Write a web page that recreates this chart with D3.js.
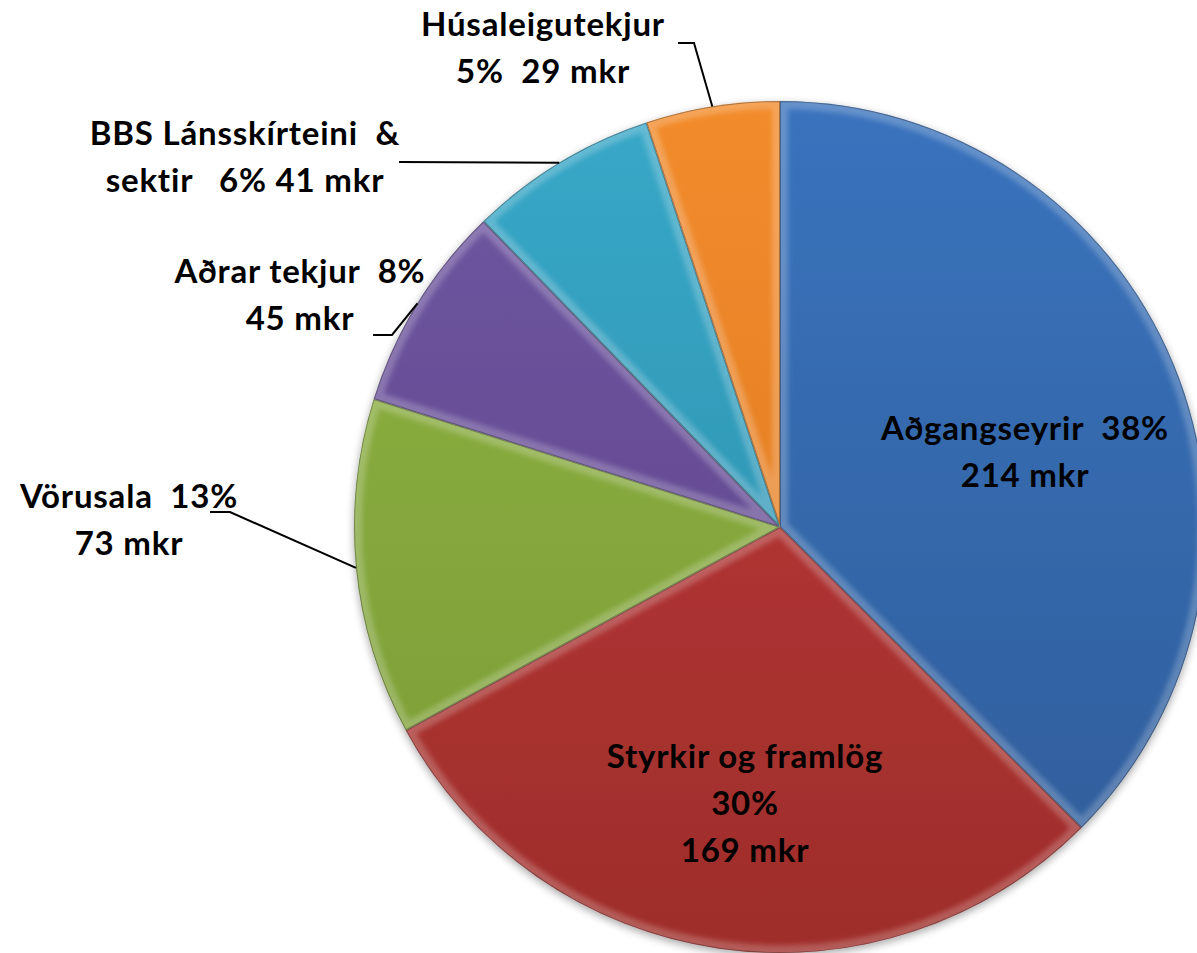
<!DOCTYPE html>
<html>
<head>
<meta charset="utf-8">
<script src="https://cdn.jsdelivr.net/npm/d3@7"></script>
<style>
    body { margin: 0; background: #ffffff; }
    svg { display: block; }
    .lbl { font-family: Lato, "Open Sans", sans-serif; font-weight: bold; font-size: 33px; letter-spacing: 0.8px; fill: #000; white-space: pre; }
</style>
</head>
<body>
<div id="chart"></div>
<script>
// chart data
var categories = ["Aðgangseyrir", "Styrkir og framlög", "Vörusala", "Aðrar tekjur", "BBS Lánsskírteini & sektir", "Húsaleigutekjur"];
var values = [214, 169, 73, 45, 41, 29];
var percents = ["38%", "30%", "13%", "8%", "6%", "5%"];
var labelLines = [
    ["Aðgangseyrir  38%", "214 mkr"],
    ["Styrkir og framlög", "30%", "169 mkr"],
    ["Vörusala  13%", "73 mkr"],
    ["Aðrar tekjur  8%", "45 mkr"],
    ["BBS Lánsskírteini  &", "sektir   6% 41 mkr"],
    ["Húsaleigutekjur", "5%  29 mkr"]
];

// layout
var colors = ["#3a73bd", "#bf3b38", "#8fb443", "#7057a2", "#38a8c8", "#f28b2c"];
var darks = ["#2e5c98", "#9e2d2b", "#7a9a35", "#5a4286", "#2b8aa6", "#d9761f"];
var labelPos = [[1025, 440], [745, 768], [129, 508], [300, 283], [245, 145], [543, 36]];
var lineHeight = 47;
// leader elbows (label side) for the outside labels, null for inside ones
var elbows = [null, null, [[210, 512], [230, 512]], [[373, 335], [392, 335]], [[399, 162]], [[678, 43], [694, 43]]];

var width = 1197, height = 953;
var cx = 780, cy = 527, radius = 426;

var svg = d3.select('#chart')
    .append('svg')
    .attr('width', width)
    .attr('height', height);

var defs = svg.append('defs');

var shadow = defs.append('filter').attr('id', 'shadow')
    .attr('x', '-10%').attr('y', '-10%').attr('width', '120%').attr('height', '120%');
shadow.append('feGaussianBlur').attr('in', 'SourceAlpha').attr('stdDeviation', 4).attr('result', 'b');
shadow.append('feOffset').attr('in', 'b').attr('dx', 0).attr('dy', 3).attr('result', 'o');
shadow.append('feComponentTransfer').attr('in', 'o').attr('result', 's')
    .append('feFuncA').attr('type', 'linear').attr('slope', 0.35);
var merge = shadow.append('feMerge');
merge.append('feMergeNode').attr('in', 's');
merge.append('feMergeNode').attr('in', 'SourceGraphic');

defs.append('filter').attr('id', 'soft')
    .append('feGaussianBlur').attr('stdDeviation', 2.5);

colors.forEach(function(c, i) {
    var g = defs.append('linearGradient')
        .attr('id', 'grad' + i)
        .attr('gradientUnits', 'userSpaceOnUse')
        .attr('x1', 0).attr('y1', -radius)
        .attr('x2', 0).attr('y2', radius);
    g.append('stop').attr('offset', '0%').attr('stop-color', c);
    g.append('stop').attr('offset', '100%').attr('stop-color', darks[i]);
});

var g = svg.append('g')
    .attr('transform', 'translate(' + cx + ',' + cy + ')');

var pie = d3.pie()
    .value(function(d) { return d; })
    .sort(null);

var arc = d3.arc()
    .innerRadius(0)
    .outerRadius(radius);

var rimArc = d3.arc()
    .innerRadius(radius)
    .outerRadius(radius);

var arcs = pie(values);

arcs.forEach(function(d, i) {
    defs.append('clipPath').attr('id', 'clip' + i)
        .append('path').attr('d', arc(d))
        .attr('transform', 'translate(' + cx + ',' + cy + ')');
});

var pieGroup = g.append('g').attr('filter', 'url(#shadow)');

pieGroup.selectAll('path.slice')
    .data(arcs)
    .enter()
    .append('path')
    .attr('class', 'slice')
    .attr('d', arc)
    .attr('fill', function(d, i) { return 'url(#grad' + i + ')'; });

// soft bevel inside each slice
var bevel = svg.append('g');
arcs.forEach(function(d, i) {
    var bg = bevel.append('g').attr('clip-path', 'url(#clip' + i + ')')
        .append('g').attr('transform', 'translate(' + cx + ',' + cy + ')');
    bg.append('path')
        .attr('d', arc(d))
        .attr('fill', 'none')
        .attr('stroke', '#ffffff')
        .attr('stroke-opacity', 0.22)
        .attr('stroke-width', 16)
        .attr('stroke-linejoin', 'round')
        .attr('filter', 'url(#soft)');
    bg.append('path')
        .attr('d', arc(d))
        .attr('fill', 'none')
        .attr('stroke', '#000000')
        .attr('stroke-opacity', 0.3)
        .attr('stroke-width', 2);
});

// leader lines
arcs.forEach(function(d, i) {
    if (!elbows[i]) return;
    var end = rimArc.centroid(d);
    var pts = elbows[i].concat([[end[0] + cx, end[1] + cy]]);
    svg.append('path')
        .attr('d', d3.line()(pts))
        .attr('fill', 'none')
        .attr('stroke', '#000')
        .attr('stroke-width', 2);
});

// labels
labelLines.forEach(function(lines, i) {
    var t = svg.append('text')
        .attr('class', 'lbl')
        .attr('text-anchor', 'middle')
        .attr('x', labelPos[i][0])
        .attr('y', labelPos[i][1]);
    lines.forEach(function(s, j) {
        t.append('tspan')
            .attr('x', labelPos[i][0])
            .attr('dy', j === 0 ? 0 : lineHeight)
            .text(s);
    });
});
</script>
</body>
</html>
